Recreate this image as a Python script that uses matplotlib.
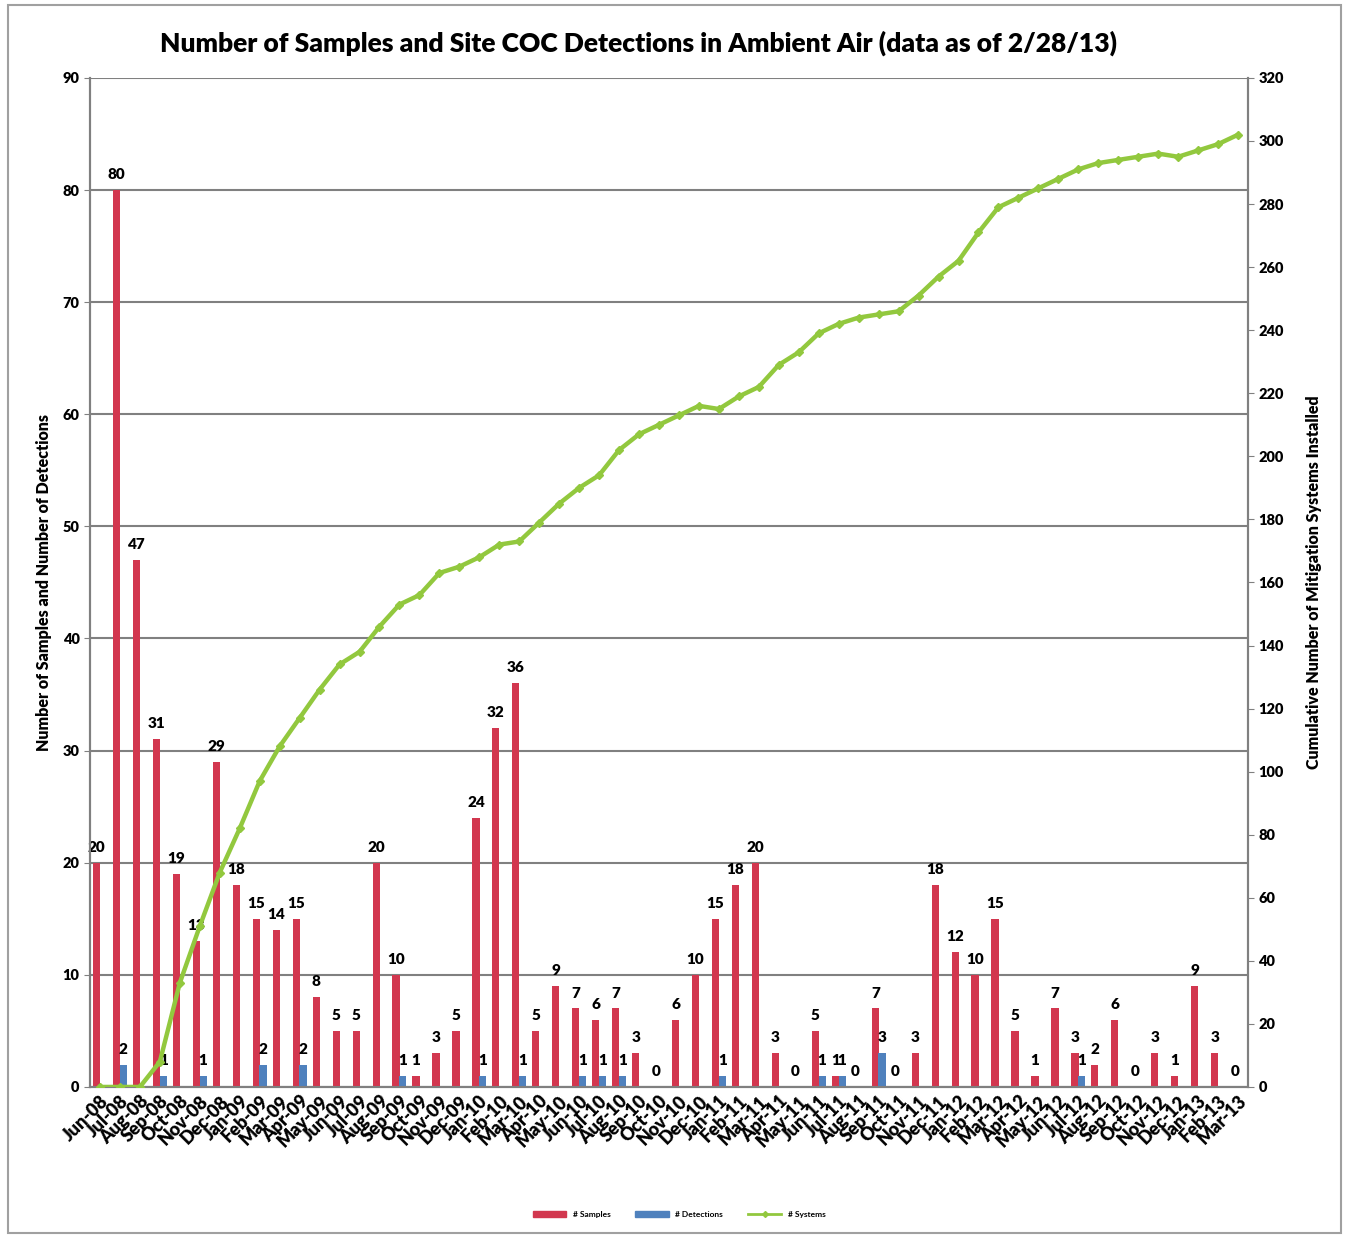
import matplotlib
matplotlib.use("Agg")
import matplotlib.pyplot as plt
import numpy as np
from matplotlib.lines import Line2D
from matplotlib.patches import Patch, Rectangle

# =====================================================
# DATA
# =====================================================

months = [
    "Jun-08", "Jul-08", "Aug-08", "Sep-08", "Oct-08", "Nov-08", "Dec-08",
    "Jan-09", "Feb-09", "Mar-09", "Apr-09", "May-09", "Jun-09",
    "Jul-09", "Aug-09", "Sep-09", "Oct-09", "Nov-09", "Dec-09",
    "Jan-10", "Feb-10", "Mar-10", "Apr-10", "May-10", "Jun-10",
    "Jul-10", "Aug-10", "Sep-10", "Oct-10", "Nov-10", "Dec-10",
    "Jan-11", "Feb-11", "Mar-11", "Apr-11", "May-11", "Jun-11",
    "Jul-11", "Aug-11", "Sep-11", "Oct-11", "Nov-11", "Dec-11",
    "Jan-12", "Feb-12", "Mar-12", "Apr-12", "May-12", "Jun-12",
    "Jul-12", "Aug-12", "Sep-12", "Oct-12", "Nov-12", "Dec-12",
    "Jan-13", "Feb-13", "Mar-13",
]

samples = [
    20, 80, 47, 31, 19, 13, 29,
    18, 15, 14, 15, 8, 5, 5, 20, 10, 1, 3, 5,
    24, 32, 36, 5, 9, 7, 6, 7, 3, 0, 6, 10,
    15, 18, 20, 3, 0, 5, 1, 0, 7, 0, 3, 18,
    12, 10, 15, 5, 1, 7, 3, 2, 6, 0, 3, 1,
    9, 3, 0,
]

detections = [
    0, 2, 0, 1, 0, 1, 0,
    0, 2, 0, 2, 0, 0, 0, 0, 1, 0, 0, 0,
    1, 0, 1, 0, 0, 1, 1, 1, 0, 0, 0, 0,
    1, 0, 0, 0, 0, 1, 1, 0, 3, 0, 0, 0,
    0, 0, 0, 0, 0, 0, 1, 0, 0, 0, 0, 0,
    0, 0, 0,
]

systems = [
    0, 0, 0, 8, 33, 51, 68,
    82, 97, 108, 117, 126, 134, 138, 146, 153, 156, 163, 165,
    168, 172, 173, 179, 185, 190, 194, 202, 207, 210, 213, 216,
    215, 219, 222, 229, 233, 239, 242, 244, 245, 246, 251, 257,
    262, 271, 279, 282, 285, 288, 291, 293, 294, 295, 296, 295,
    297, 299, 302,
]

# =====================================================
# STYLE
# =====================================================

RED = "#D2374F"
BLUE = "#4F81BD"
GREEN = "#92C83E"
GRID = "#808080"
FONT = "Lato"

plt.rcParams["font.family"] = FONT

fig = plt.figure(figsize=(13.45, 12.37), dpi=100)

# outer frame
fig.patches.append(Rectangle((0.006, 0.003), 0.991, 0.993,
                             transform=fig.transFigure, fill=False,
                             edgecolor="#A0A0A0", linewidth=1.5))

ax = fig.add_axes([0.0669, 0.1213, 0.8610, 0.8157])
ax2 = ax.twinx()

x = np.arange(len(months))
w = 0.36

ax.bar(x - 0.17, samples, width=w, color=RED, zorder=3)
ax.bar(x + 0.17, detections, width=w, color=BLUE, zorder=3)

for i, v in enumerate(samples):
    ax.text(x[i] - 0.17, v + 0.8, str(v), ha="center", va="bottom",
            fontsize=11, fontweight="heavy", zorder=5)

for i, v in enumerate(detections):
    if v > 0:
        ax.text(x[i] + 0.17, v + 0.8, str(v), ha="center", va="bottom",
                fontsize=11, fontweight="heavy", zorder=5)

ax2.plot(x, systems, color=GREEN, linewidth=3.2, marker="D",
         markersize=4.5, zorder=4)

# =====================================================
# AXES
# =====================================================

ax.set_xlim(-0.5, len(months) - 0.5)
ax.set_ylim(0, 90)
ax2.set_ylim(0, 320)

ax.set_yticks(np.arange(0, 91, 10))
ax2.set_yticks(np.arange(0, 321, 20))

ax.yaxis.grid(True, color=GRID, linewidth=1.5, zorder=0)
ax.set_axisbelow(True)

ax.set_xticks(x)
ax.set_xticklabels(months, rotation=45, ha="right", rotation_mode="anchor",
                   fontsize=13, fontweight="heavy")

for lab in ax.get_yticklabels():
    lab.set_fontweight("heavy")
for lab in ax2.get_yticklabels():
    lab.set_fontweight("heavy")

ax.tick_params(axis="y", labelsize=10.5, length=4, color=GRID)
ax2.tick_params(axis="y", labelsize=10.5, length=4, color=GRID)
ax.tick_params(axis="x", length=0, pad=4)

for a in (ax, ax2):
    a.spines["top"].set_visible(False)
    for s in ("left", "right", "bottom"):
        a.spines[s].set_color(GRID)
        a.spines[s].set_linewidth(1.5)

ax.set_ylabel("Number of Samples and Number of Detections",
              fontsize=11.5, fontweight="heavy", labelpad=8)
ax2.set_ylabel("Cumulative Number of Mitigation Systems Installed",
               fontsize=11.5, fontweight="heavy", labelpad=16)

fig.text(0.475, 0.965,
         "Number of Samples and Site COC Detections in Ambient Air (data as of 2/28/13)",
         ha="center", va="center", fontsize=19, fontweight="heavy")

# =====================================================
# LEGEND
# =====================================================

handles = [
    Patch(color=RED),
    Patch(color=BLUE),
    Line2D([0], [0], color=GREEN, linewidth=2, marker="D", markersize=3),
]
fig.legend(handles, ["# Samples", "# Detections", "# Systems"],
           loc="center", bbox_to_anchor=(0.505, 0.018), ncol=3,
           frameon=False, handlelength=4, columnspacing=3,
           prop={"weight": "bold", "size": 6})

fig.savefig("out.png", dpi=100)
